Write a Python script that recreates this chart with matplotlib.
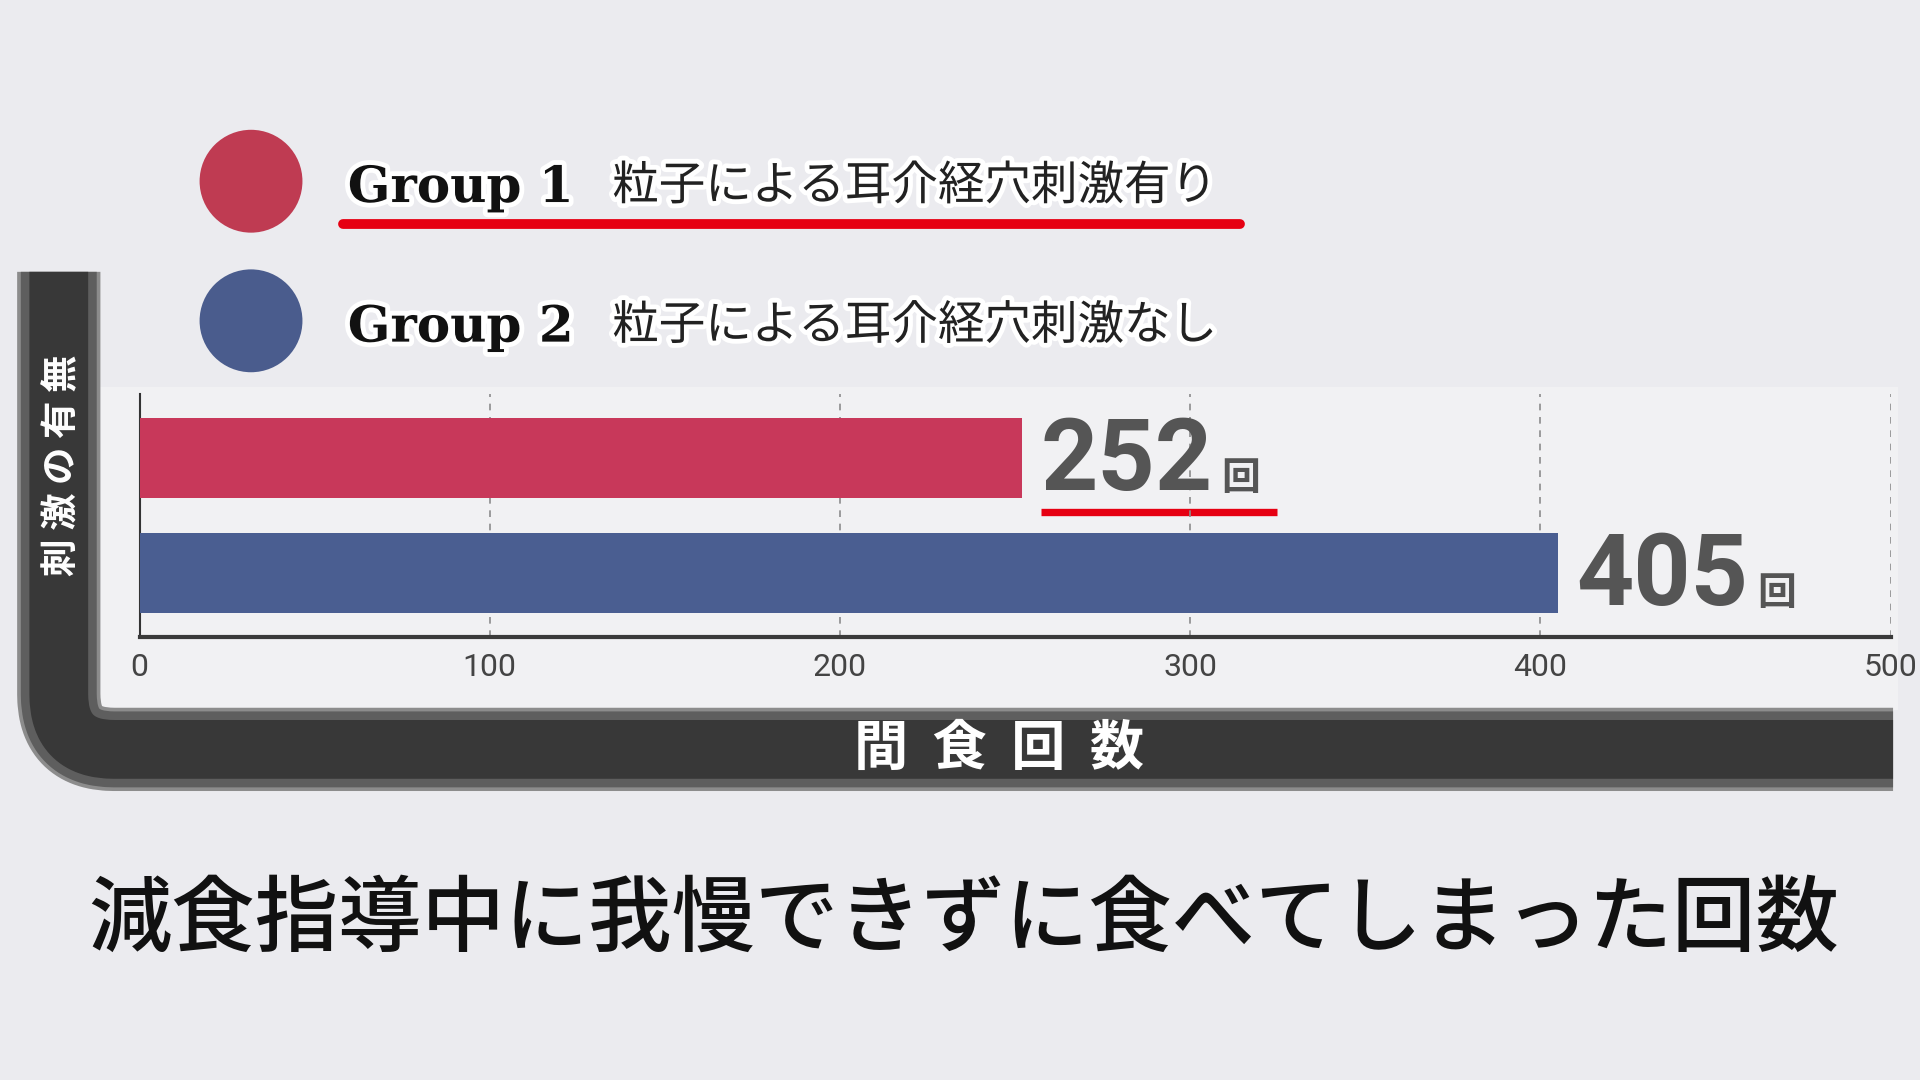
import matplotlib
matplotlib.use('Agg')
import matplotlib.pyplot as plt
import matplotlib.patches as patches
import matplotlib.patheffects as pe
from matplotlib.path import Path

plt.rcParams['font.family'] = ['Noto Sans CJK JP', 'DejaVu Sans']

# data
groups = ['Group 1', 'Group 2']
descriptions = ['粒子による耳介経穴刺激有り', '粒子による耳介経穴刺激なし']
counts = [252, 405]
bar_colors = ['#C8385A', '#4A5E91']
dot_colors = ['#BF3B52', '#4A5C8D']
xticks = [0, 100, 200, 300, 400, 500]
unit = '回'
y_label = '刺激の有無'
x_label = '間食回数'
caption = '減食指導中に我慢できずに食べてしまった回数'

# layout grid in reference pixels
W, H = 1568, 882
pt = (1920 / W) * 72 / 100   # grid unit -> points

fig = plt.figure(figsize=(19.2, 10.8), dpi=100)
fig.patch.set_facecolor('#EBEBEF')

bg = fig.add_axes([0, 0, 1, 1], zorder=0)
bg.set_xlim(0, W)
bg.set_ylim(H, 0)
bg.axis('off')

# lighter scanned panel behind the bars
bg.add_patch(patches.Rectangle((82, 316), 1468, 264, color='#F1F1F3', lw=0))

# L-shaped frame
r = 45
verts = [(48, 222), (48, 612 - r), (48, 612), (48 + r, 612), (1546, 612)]
codes = [Path.MOVETO, Path.LINETO, Path.CURVE3, Path.CURVE3, Path.LINETO]
frame = Path(verts, codes)
for wdt, col in [(68, '#8C8C8C'), (62, '#5E5E5E'), (48, '#383838')]:
    bg.add_patch(patches.PathPatch(frame, fill=False, lw=wdt * pt, edgecolor=col,
                                   capstyle='butt', joinstyle='round'))

bg.text(50, 380, ' '.join(y_label), rotation=90, color='white', fontsize=27,
        fontweight='bold', ha='center', va='center')
bg.text(816, 612, '  '.join(x_label), color='white', fontsize=39,
        fontweight='bold', ha='center', va='center')

# legend
glow = [pe.withStroke(linewidth=7, foreground='white')]
leg_y = [148, 262]
for g, d, c, yc in zip(groups, descriptions, dot_colors, leg_y):
    bg.add_patch(patches.Circle((205, yc), 42, color=c, lw=0))
    bg.text(284, yc + 17, g, family='DejaVu Serif', fontweight='bold', fontsize=36,
            va='baseline', ha='left', color='#111111', path_effects=glow)
    bg.text(500, yc + 15, d, fontsize=33.5, va='baseline', ha='left',
            color='#222222', path_effects=glow)
bg.plot([280, 1013], [183, 183], color='#E60012', lw=8 * pt, solid_capstyle='round')

# bar chart
ax = fig.add_axes([114 / W, 1 - 520 / H, 1430 / W, 198 / H], zorder=2)
ax.set_facecolor('none')
ypos = [1, 0]
ax.barh(ypos, counts, height=0.70, color=bar_colors, zorder=3)
ax.set_xlim(0, 500)
ax.set_ylim(-0.553, 1.553)
ax.set_yticks([])
ax.set_xticks(xticks)
ax.set_xticklabels([str(t) for t in xticks], fontsize=23, color='#444444', family='Roboto')
ax.tick_params(axis='x', length=0, pad=12)
ax.grid(axis='x', color='#8C8C8C', lw=1.2, ls=(0, (4, 4)), zorder=1)
ax.set_axisbelow(True)
for s in ['top', 'right']:
    ax.spines[s].set_visible(False)
ax.spines['left'].set_color('#333333')
ax.spines['left'].set_linewidth(1.5)
ax.spines['bottom'].set_color('#3A3A3A')
ax.spines['bottom'].set_linewidth(3)

for y, v in zip(ypos, counts):
    ax.annotate(f'{v}', (v, y), xytext=(15 * pt, -26 * pt), textcoords='offset points',
                ha='left', va='baseline', fontsize=72, fontweight='bold',
                color='#555555', family='Roboto', annotation_clip=False)
    ax.annotate(unit, (v, y), xytext=(163 * pt, -26 * pt), textcoords='offset points',
                ha='left', va='baseline', fontsize=28, fontweight='bold',
                color='#555555', annotation_clip=False)

# red underline under the first value
bg.plot([850, 1043], [418, 418], color='#E60012', lw=6 * pt, solid_capstyle='butt', zorder=5)

bg.text(787, 752, caption, fontsize=60, ha='center', va='center', color='#111111',
        fontweight='medium')

plt.savefig('out.png', dpi=100)
